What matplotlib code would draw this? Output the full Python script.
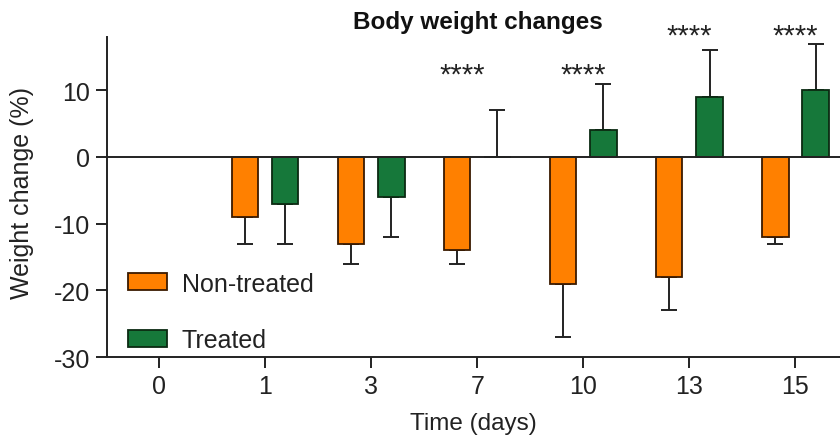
import numpy as np
import matplotlib
matplotlib.use("Agg")
from matplotlib import pyplot as plt
from matplotlib.patches import Patch

plt.rcParams['font.family'] = ['Liberation Sans', 'DejaVu Sans']
plt.rcParams['axes.unicode_minus'] = False  #plain hyphen on negative ticks

#days on the x axis
days = ["0", "1", "3", "7", "10", "13", "15"]

#mean weight change (%) and error bar length per group
non_treated = [np.nan, -9, -13, -14, -19, -18, -12]
non_treated_err = [0, 4, 3, 2, 8, 5, 1]
treated = [np.nan, -7, -6, 0, 4, 9, 10]
treated_err = [0, 6, 6, 7, 7, 7, 7]

#significance marks above each day
stars = ["", "", "", "****", "****", "****", "****"]
star_y = [0, 0, 0, 12.3, 12.3, 18.2, 18.2]

orange = "#FF8000"
green = "#16783A"

fig = plt.figure(figsize=(8.4, 4.39), dpi=100)
ax = fig.add_axes([0.1274, 0.1845, 0.8726, 0.729])

x = np.arange(len(days))
w = 0.25
off = 0.19

ax.bar(x - off, non_treated, w, color=orange, edgecolor="#3a1a00", linewidth=1.3, zorder=2)
ax.bar(x + off, treated, w, color=green, edgecolor="#0b2a12", linewidth=1.3, zorder=2)

#one sided error bars, pointing away from zero
for i in range(len(days)):
    for val, err, dx in ((non_treated[i], non_treated_err[i], -off),
                         (treated[i], treated_err[i], off)):
        if np.isnan(val) or err == 0:
            continue
        yerr = [[err], [0]] if val < 0 else [[0], [err]]
        ax.errorbar(x[i] + dx, val, yerr=yerr, fmt="none", ecolor="#222222",
                    elinewidth=1.4, capsize=6, capthick=1.4, zorder=1)

ax.axhline(0, color="#222222", linewidth=1.4, zorder=3)

for i, s in enumerate(stars):
    if s:
        xs = x[i] - 0.14 if days[i] == "7" else x[i]
        ax.text(xs, star_y[i], s, ha="center", va="center", fontsize=21,
                color="#222222", clip_on=False)

ax.set_xlim(-0.49, 6.42)
ax.set_ylim(-30, 18)
ax.set_yticks([-30, -20, -10, 0, 10])
ax.set_xticks(x)
ax.set_xticklabels(days)

for side in ("top", "right"):
    ax.spines[side].set_visible(False)
for side in ("left", "bottom"):
    ax.spines[side].set_linewidth(1.4)
    ax.spines[side].set_color("#222222")
ax.tick_params(axis="both", direction="out", length=8, width=1.4, labelsize=18, pad=4,
               color="#222222", labelcolor="#222222")

ax.set_ylabel("Weight change (%)", fontsize=18, color="#222222")
ax.yaxis.set_label_coords(-0.099, 0.515)
ax.set_xlabel("Time (days)", fontsize=17.5, labelpad=10, color="#222222")

fig.text(0.569, 0.948, "Body weight changes", ha="center", va="center", fontsize=17.5,
         fontweight="bold", color="#111111")

handles = [Patch(facecolor=orange, edgecolor="#3a1a00", linewidth=1.3, label="Non-treated"),
           Patch(facecolor=green, edgecolor="#0b2a12", linewidth=1.3, label="Treated")]
ax.legend(handles=handles, loc="lower left", bbox_to_anchor=(-0.002, -0.055), frameon=False,
          fontsize=18, handlelength=1.55, handleheight=0.65, labelspacing=1.3,
          handletextpad=0.6, labelcolor="#222222")

fig.savefig("out.png", dpi=100)
